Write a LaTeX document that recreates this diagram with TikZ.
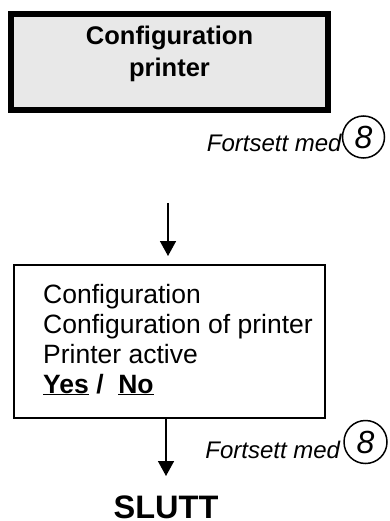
\documentclass[tikz,border=0pt]{standalone}
\usepackage{fontspec}
\setmainfont{Liberation Sans}
\usetikzlibrary{arrows.meta}
\definecolor{hdrgray}{HTML}{E8E8E8}

\begin{document}
\begin{tikzpicture}[x=1pt, y=-1pt,
		hdrbox/.style={draw, line width=6pt, fill=hdrgray, minimum width=317pt, minimum height=96pt, inner sep=0pt},
		hdrtext/.style={align=center, inner sep=0pt, font=\bfseries\fontsize{25.5}{32}\selectfont},
		menubox/.style={draw, line width=2pt, minimum width=311pt, minimum height=153pt, inner sep=0pt},
		menutext/.style={align=left, inner sep=0pt, font=\fontsize{26.5}{30}\selectfont},
		flow/.style={line width=1.6pt, -{Triangle[length=15pt, width=16pt]}},
		contcircle/.style={draw, circle, line width=1.5pt, minimum size=42pt, inner sep=0pt, font=\itshape\fontsize{32}{32}\selectfont},
		contlabel/.style={inner sep=0pt, font=\itshape\fontsize{24}{28}\selectfont}]
			\useasboundingbox (0,0) rectangle (390,521);
			\coordinate (top1) at (168,203);
			\coordinate (end2) at (166,476);
			
			\node[hdrbox] (hdr) at (169.5,62) {};
			\node[hdrtext, anchor=base] (hdrtxt) at (169.5,77) {Configuration\\printer};
			
			\node[contcircle] (cont1) at (363.5,137) {8};
			\node[contlabel, anchor=base east] (lbl1) at ([yshift=-15pt]cont1.west) {Fortsett med};
			
			\node[menubox] (menu) at (169.5,341.5) {};
			\node[menutext, anchor=base west] (menutxt) at (43,393) {Configuration\\Configuration of printer\\Printer active\\\textbf{\underline{Yes} / \ \underline{No}}};
			
			\draw[flow, shorten >=8pt] (top1) -- (top1 |- menu.north);
			\draw[flow] (end2 |- menu.south) -- (end2);
			
			\node[contcircle, minimum size=43pt] (cont2) at (365.5,442) {8};
			\node[contlabel, anchor=base east] (lbl2) at ([xshift=-3pt, yshift=-16pt]cont2.west) {Fortsett med};
			
			\node[anchor=base, font=\bfseries\fontsize{32.5}{33}\selectfont] (slutt) at (166,518) {SLUTT};
		\end{tikzpicture}
\end{document}
